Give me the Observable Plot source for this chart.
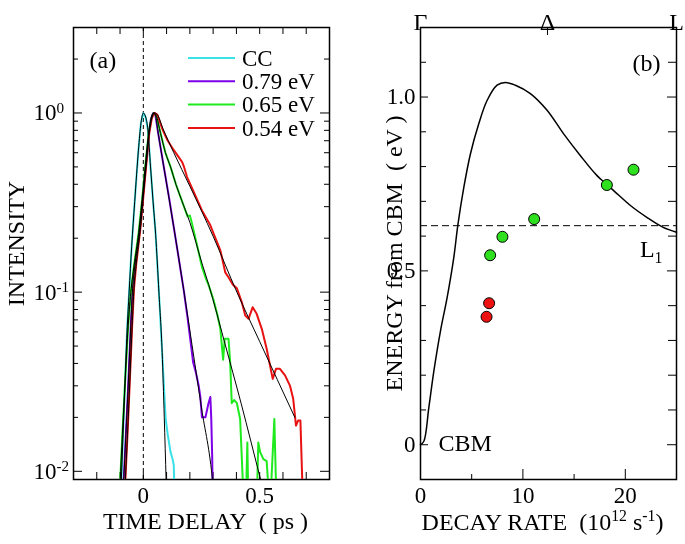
<!DOCTYPE html>
<html><head><meta charset="utf-8">
<script src="https://cdn.jsdelivr.net/npm/d3@7"></script>
<script src="https://cdn.jsdelivr.net/npm/@observablehq/plot@0.6"></script>
<style>
body{margin:0;background:#fff;}
.cell{position:absolute;top:0;height:544px;transform:scale(1);transform-origin:0 0;will-change:transform;}
#veil{position:absolute;left:0;top:0;width:1px;height:1px;background:rgba(255,255,255,0.01);pointer-events:none;}
</style></head><body>
<div class="cell" id="cellA" style="left:0;width:345px;"></div>
<div class="cell" id="cellB" style="left:345px;width:340px;"></div>
<div id="veil"></div>
<script>
// ---------- Panel (a): time-resolved intensity ----------
const seriesLabels = ["CC", "0.79 eV", "0.65 eV", "0.54 eV"];
const seriesColors = ["#38e2e6", "#7d00e8", "#1eea1e", "#e81212"];

// [time delay (ps), intensity]
const ccData = [[-0.095,0.0085],[-0.088,0.015],[-0.08,0.028],[-0.07,0.06],[-0.061,0.1],[-0.05,0.18],[-0.037,0.32],[-0.021,0.62],[-0.01,0.88],[0,1.0],[0.01,0.95],[0.02,0.8],[0.031,0.5],[0.042,0.32],[0.053,0.21],[0.067,0.1],[0.081,0.046],[0.096,0.0196],[0.105,0.016],[0.117,0.0128],[0.125,0.0118],[0.131,0.0108],[0.135,0.006]];
const ev079Data = [[-0.085,0.0085],[-0.075,0.016],[-0.065,0.03],[-0.055,0.06],[-0.046,0.105],[-0.037,0.138],[-0.018,0.212],[-0.004,0.325],[0.01,0.5],[0.024,0.77],[0.033,0.93],[0.043,1.0],[0.052,0.97],[0.064,0.77],[0.088,0.5],[0.11,0.34],[0.131,0.23],[0.152,0.155],[0.174,0.102],[0.19,0.072],[0.209,0.046],[0.214,0.0406],[0.225,0.036],[0.238,0.03],[0.245,0.026],[0.252,0.02],[0.267,0.02],[0.28,0.024],[0.288,0.026],[0.292,0.0196],[0.296,0.012],[0.299,0.006]];
const ev065Data = [[-0.1,0.0085],[-0.09,0.016],[-0.078,0.032],[-0.065,0.065],[-0.052,0.105],[-0.04,0.14],[-0.02,0.215],[-0.005,0.33],[0.008,0.5],[0.023,0.77],[0.034,0.93],[0.045,1.0],[0.055,0.97],[0.074,0.77],[0.095,0.6],[0.117,0.5],[0.14,0.4],[0.165,0.325],[0.19,0.265],[0.2,0.268],[0.208,0.245],[0.23,0.185],[0.252,0.138],[0.27,0.118],[0.281,0.109],[0.3,0.092],[0.318,0.075],[0.331,0.0624],[0.343,0.042],[0.35,0.055],[0.366,0.055],[0.373,0.041],[0.38,0.024],[0.39,0.025],[0.402,0.024],[0.416,0.0196],[0.428,0.0085],[0.44,0.006],[0.447,0.0145],[0.452,0.006],[0.488,0.007],[0.494,0.0145],[0.502,0.0128],[0.516,0.0117],[0.53,0.0114],[0.544,0.006],[0.563,0.0196],[0.573,0.006]];
const ev054Data = [[-0.078,0.0085],[-0.068,0.016],[-0.058,0.032],[-0.048,0.065],[-0.04,0.105],[-0.03,0.145],[-0.012,0.23],[0.0,0.34],[0.013,0.52],[0.026,0.78],[0.037,0.94],[0.048,1.0],[0.06,0.98],[0.084,0.8],[0.105,0.7],[0.131,0.62],[0.155,0.56],[0.167,0.532],[0.175,0.5],[0.188,0.439],[0.217,0.362],[0.252,0.286],[0.288,0.236],[0.302,0.212],[0.331,0.171],[0.352,0.129],[0.366,0.121],[0.385,0.11],[0.402,0.105],[0.423,0.088],[0.438,0.074],[0.452,0.071],[0.47,0.0824],[0.487,0.0757],[0.509,0.0624],[0.53,0.0483],[0.556,0.0328],[0.57,0.0373],[0.587,0.0373],[0.609,0.0343],[0.63,0.0301],[0.644,0.0254],[0.656,0.018],[0.665,0.0192],[0.675,0.0192],[0.687,0.006]];

// fitted curves (black)
const ccFit = [[-0.095,0.0085],[-0.088,0.015],[-0.08,0.028],[-0.07,0.06],[-0.061,0.1],[-0.05,0.18],[-0.037,0.32],[-0.021,0.62],[-0.01,0.88],[0,1.0],[0.01,0.95],[0.02,0.8],[0.031,0.5],[0.042,0.32],[0.053,0.21],[0.067,0.1],[0.081,0.046],[0.09,0.02],[0.098,0.0088],[0.1,0.007]];
const ev079Fit = [[-0.085,0.0085],[-0.075,0.016],[-0.065,0.03],[-0.055,0.06],[-0.046,0.105],[-0.037,0.138],[-0.018,0.212],[-0.004,0.325],[0.01,0.5],[0.024,0.77],[0.033,0.93],[0.043,1.0],[0.052,0.97],[0.064,0.77],[0.088,0.5],[0.131,0.23],[0.174,0.102],[0.209,0.051],[0.25,0.0226],[0.299,0.0085],[0.305,0.007]];
const ev065Fit = [[-0.1,0.0085],[-0.09,0.016],[-0.078,0.032],[-0.065,0.065],[-0.052,0.105],[-0.04,0.14],[-0.02,0.215],[-0.005,0.33],[0.008,0.5],[0.023,0.77],[0.034,0.93],[0.045,1.0],[0.055,0.97],[0.074,0.77],[0.095,0.6],[0.117,0.5],[0.14,0.4],[0.165,0.325],[0.2,0.245],[0.252,0.145],[0.281,0.11],[0.35,0.052],[0.42,0.024],[0.506,0.0088],[0.52,0.0075]];
const ev054Fit = [[-0.078,0.0085],[-0.068,0.016],[-0.058,0.032],[-0.048,0.065],[-0.04,0.105],[-0.03,0.145],[-0.012,0.23],[0.0,0.34],[0.013,0.52],[0.026,0.78],[0.037,0.94],[0.048,1.0],[0.06,0.98],[0.084,0.82],[0.131,0.6],[0.2,0.39],[0.3,0.205],[0.402,0.1],[0.5,0.053],[0.651,0.02]];

const timeTicks = [-0.2,-0.1,0,0.1,0.2,0.3,0.4,0.5,0.6,0.7];
const timeTickLabels = [0, 0.5];
const intensityDecades = [0.01, 0.1, 1];
const intensityMinor = [0.02,0.03,0.04,0.05,0.06,0.07,0.08,0.09,0.2,0.3,0.4,0.5,0.6,0.7,0.8,0.9,2,3];

// ---------- Panel (b): energy vs decay rate ----------
const bandRate   = [0,0.33,0.81,1.30,1.95,2.60,3.25,3.64,4.23,4.88,5.69,6.5,7.48,8.29,9.27,10.73,12.36,13.98,15.6,17.24,18.86,20.5,22.1,23.7,25];
const bandEnergy = [0,0.01,0.106,0.211,0.327,0.423,0.538,0.630,0.740,0.837,0.923,0.990,1.034,1.042,1.034,1.010,0.962,0.894,0.832,0.774,0.731,0.688,0.654,0.625,0.611];
const greenRate   = [6.8, 8.0, 11.1, 18.2, 20.8];
const greenEnergy = [0.545, 0.598, 0.649, 0.747, 0.791];
const redRate     = [6.7, 6.45];
const redEnergy   = [0.407, 0.368];
const L1Energy = 0.63;
const topLabels = ["Γ", "Δ", "L"];
const topLabelPos = [0, 12.4, 25];
const rateTickLabels = [0, 10, 20];
const rateMinor = [5, 15];
const energyTickLabels = [0, 0.5, 1.0];
const energyMinor = [0.1,0.2,0.3,0.4,0.6,0.7,0.8,0.9,1.1];

// ---------- layout ----------
const FONT = "Liberation Serif";
const H = 544, MT = 27, MB = 65, innerH = H - MT - MB;
const toRows = arr => arr.map(([t, I]) => ({t, I}));

function richify(svg) {
  d3.select(svg).selectAll("text").each(function() {
    const el = this;
    if (el.querySelector("tspan")) return;
    const s = el.textContent;
    if (!/[\^_]\{/.test(s)) return;
    const fs = parseFloat(getComputedStyle(el).fontSize) || 23;
    const parts = s.split(/([\^_]\{[^}]*\})/);
    el.textContent = "";
    let shift = 0;
    for (const p of parts) {
      if (!p) continue;
      const m = p.match(/^([\^_])\{([^}]*)\}$/);
      const ts = document.createElementNS("http://www.w3.org/2000/svg", "tspan");
      let target = 0;
      if (m) {
        target = m[1] === "^" ? -0.34 * fs : 0.22 * fs;
        ts.setAttribute("font-size", (0.66 * fs).toFixed(1));
        ts.textContent = m[2];
      } else ts.textContent = p;
      ts.setAttribute("dy", (target - shift).toFixed(2));
      shift = target;
      el.appendChild(ts);
    }
  });
}

// Panel (a)
const WA = 345, MLA = 73, MRA = 16, innerWA = WA - MLA - MRA;
const seriesData = [ccData, ev079Data, ev065Data, ev054Data];
const seriesFits = [ccFit, ev079Fit, ev065Fit, ev054Fit];

const plotA = Plot.plot({
  width: WA, height: H, marginLeft: MLA, marginRight: MRA, marginTop: MT, marginBottom: MB,
  style: {fontFamily: FONT, fontSize: "23px", color: "black", background: "white", overflow: "visible"},
  x: {domain: [-0.3, 0.8]},
  y: {type: "log", domain: [0.009, 3], axis: null},
  marks: [
    Plot.frame({stroke: "black", strokeWidth: 1.5}),
    Plot.ruleX(timeTicks, {x: d => d, insetTop: innerH - 7, strokeWidth: 1}),
    Plot.ruleX(timeTicks, {x: d => d, insetBottom: innerH - 7, strokeWidth: 1}),
    Plot.ruleY(intensityDecades, {y: d => d, insetRight: innerWA - 9, strokeWidth: 1}),
    Plot.ruleY(intensityDecades, {y: d => d, insetLeft: innerWA - 9, strokeWidth: 1}),
    Plot.ruleY(intensityMinor, {y: d => d, insetRight: innerWA - 5, strokeWidth: 1}),
    Plot.ruleY(intensityMinor, {y: d => d, insetLeft: innerWA - 5, strokeWidth: 1}),
    Plot.ruleX([0], {x: d => d, strokeDasharray: "4,3", strokeWidth: 1}),
    ...seriesData.map((s, i) => Plot.line(toRows(s), {x: "t", y: "I", stroke: seriesColors[i], strokeWidth: 2, clip: true})),
    ...seriesFits.map(s => Plot.line(toRows(s), {x: "t", y: "I", stroke: "black", strokeWidth: 1, clip: true, curve: "monotone-x"})),
    Plot.axisX({ticks: timeTickLabels, tickSize: 0, tickPadding: 7, tickFormat: d => d === 0 ? "0" : String(d), label: null}),
    Plot.text(intensityDecades, {y: d => d, text: d => `10^{${Math.round(Math.log10(d))}}`, frameAnchor: "left", textAnchor: "start", lineAnchor: "middle", dx: -40}),
    Plot.text(["TIME DELAY\u00a0\u00a0( ps )"], {text: d => d, frameAnchor: "bottom", lineAnchor: "bottom", dy: 49, dx: 4, fontSize: 24}),
    Plot.text(["INTENSITY"], {text: d => d, frameAnchor: "left", rotate: -90, textAnchor: "middle", lineAnchor: "bottom", dx: -50, dy: -10, fontSize: 24}),
    Plot.text(["(a)"], {text: d => d, frameAnchor: "top-left", textAnchor: "start", lineAnchor: "middle", dx: 16, dy: 33, fontSize: 24})
  ]
});

// Panel (b)
const WB = 340, MLB = 75, MRB = 9, innerWB = WB - MLB - MRB;
const band = bandRate.map((r, i) => ({rate: r, energy: bandEnergy[i]}));
const greenPts = greenRate.map((r, i) => ({rate: r, energy: greenEnergy[i]}));
const redPts = redRate.map((r, i) => ({rate: r, energy: redEnergy[i]}));
const topLabelOf = new Map(topLabelPos.map((p, i) => [p, topLabels[i]]));

const plotB = Plot.plot({
  width: WB, height: H, marginLeft: MLB, marginRight: MRB, marginTop: MT, marginBottom: MB,
  style: {fontFamily: FONT, fontSize: "23px", color: "black", background: "white", overflow: "visible"},
  x: {domain: [0, 25]},
  y: {domain: [-0.1, 1.2]},
  marks: [
    Plot.frame({stroke: "black", strokeWidth: 1.5}),
    Plot.ruleX(rateTickLabels, {x: d => d, insetTop: innerH - 10, strokeWidth: 1}),
    Plot.ruleX(rateMinor, {x: d => d, insetTop: innerH - 5, strokeWidth: 1}),
    Plot.ruleX([topLabelPos[1]], {x: d => d, insetBottom: innerH - 8, strokeWidth: 1}),
    Plot.ruleY(energyTickLabels, {y: d => d, insetRight: innerWB - 8, strokeWidth: 1}),
    Plot.ruleY(energyTickLabels, {y: d => d, insetLeft: innerWB - 9, strokeWidth: 1}),
    Plot.ruleY(energyMinor, {y: d => d, insetRight: innerWB - 6, strokeWidth: 1}),
    Plot.ruleY(energyMinor, {y: d => d, insetLeft: innerWB - 8, strokeWidth: 1}),
    Plot.ruleY([L1Energy], {y: d => d, strokeDasharray: "7,4", strokeWidth: 1}),
    Plot.line(band, {x: "rate", y: "energy", stroke: "black", strokeWidth: 1.5, curve: "catmull-rom"}),
    Plot.dot(greenPts, {x: "rate", y: "energy", r: 5.5, fill: "#2ee01e", stroke: "black", strokeWidth: 1}),
    Plot.dot(redPts, {x: "rate", y: "energy", r: 5.5, fill: "#ee1111", stroke: "black", strokeWidth: 1}),
    Plot.axisX({ticks: rateTickLabels, tickSize: 0, tickPadding: 7, tickFormat: d => String(d), label: null}),
    Plot.axisX({anchor: "top", ticks: topLabelPos, tickSize: 0, tickPadding: -2, tickFormat: d => topLabelOf.get(d), label: null, fontSize: 24}),
    Plot.axisY({ticks: energyTickLabels, tickSize: 0, tickPadding: 5, tickFormat: d => d === 0 ? "0" : d.toFixed(1), label: null}),
    Plot.text(["DECAY RATE\u00a0\u00a0(10^{12} s^{-1})"], {text: d => d, frameAnchor: "bottom", lineAnchor: "bottom", dy: 50, dx: -6, fontSize: 24}),
    Plot.text(["ENERGY from CBM\u00a0\u00a0( eV )"], {text: d => d, frameAnchor: "left", rotate: -90, textAnchor: "middle", lineAnchor: "bottom", dx: -19, fontSize: 24}),
    Plot.text(["(b)"], {text: d => d, frameAnchor: "top-right", textAnchor: "end", lineAnchor: "middle", dx: -16, dy: 36, fontSize: 24}),
    Plot.text([L1Energy], {y: d => d, text: () => "L_{1}", frameAnchor: "right", textAnchor: "end", lineAnchor: "middle", dx: -14, dy: 24, fontSize: 24}),
    Plot.text([band[0]], {x: "rate", y: "energy", text: () => "CBM", textAnchor: "start", lineAnchor: "middle", dx: 18, dy: -1, fontSize: 24})
  ]
});

document.getElementById("cellA").appendChild(plotA);
document.getElementById("cellB").appendChild(plotB);

// legend for panel (a)
const leg = d3.select(plotA).append("g").attr("text-anchor", "start");
const legX0 = MLA + 115, legX1 = MLA + 162, legTextX = MLA + 169, legY0 = MT + 31, legStep = 23.3;
seriesLabels.forEach((lab, i) => {
  const y = legY0 + i * legStep;
  leg.append("line").attr("x1", legX0).attr("x2", legX1).attr("y1", y).attr("y2", y)
    .attr("stroke", seriesColors[i]).attr("stroke-width", 2);
  leg.append("text").attr("x", legTextX).attr("y", y).attr("dy", "0.34em")
    .attr("text-anchor", "start").attr("font-size", 23).attr("fill", "black").text(lab);
});

richify(plotA);
richify(plotB);
</script></body></html>
